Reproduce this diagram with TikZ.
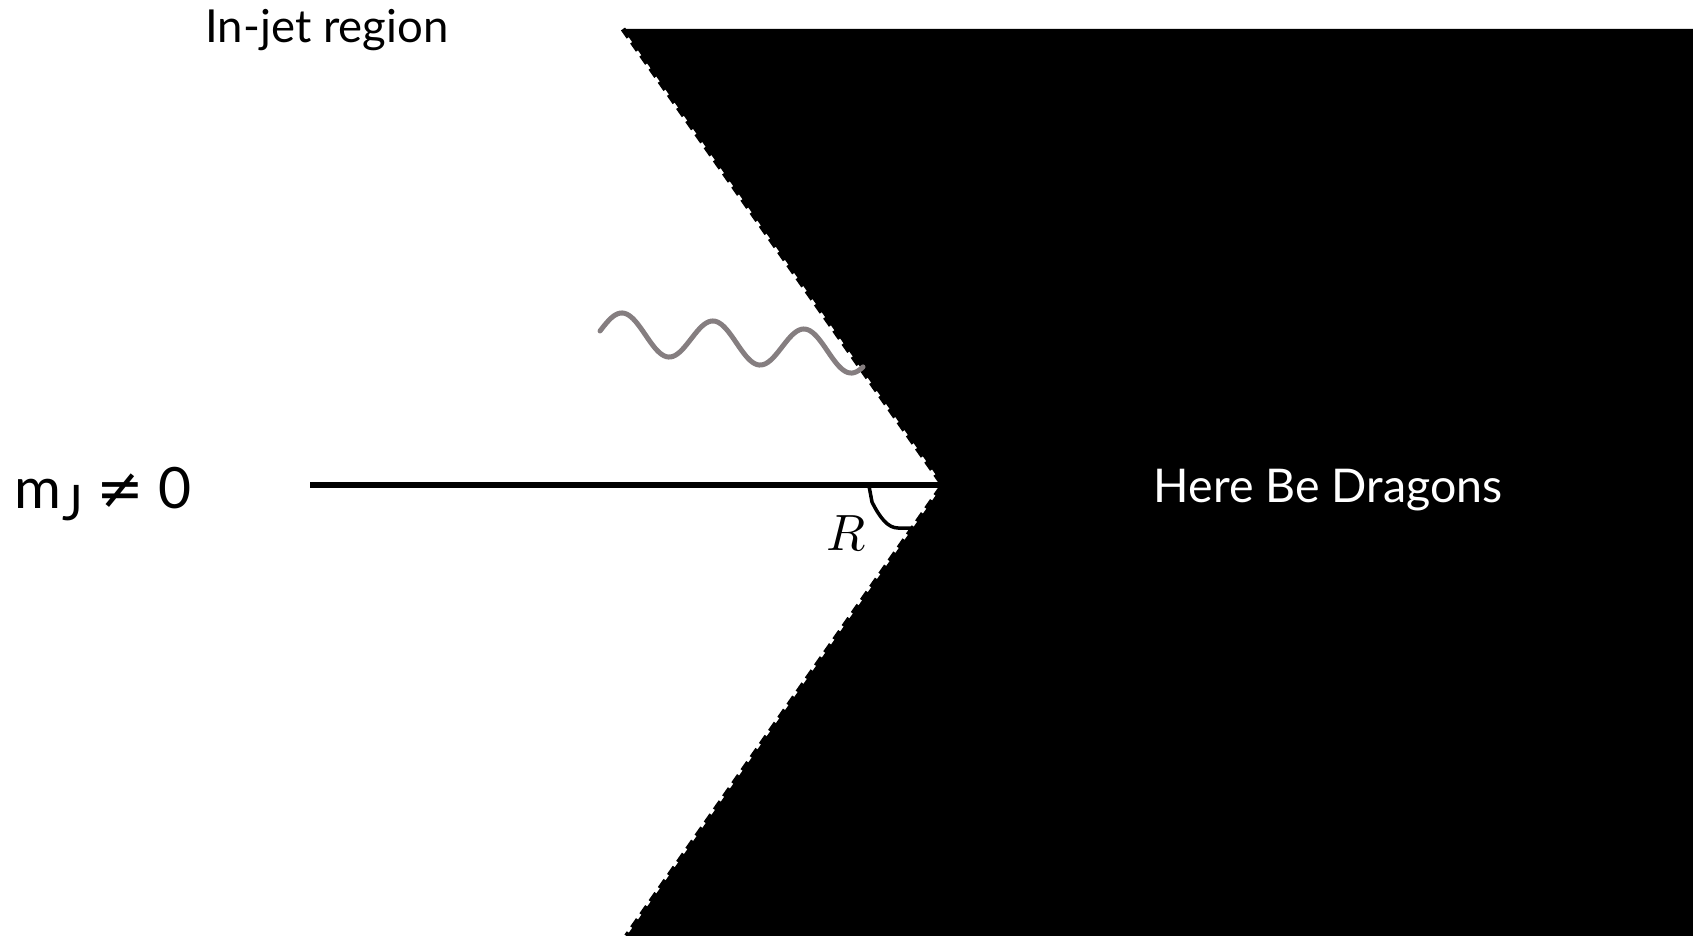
\documentclass[tikz,border=0pt]{standalone}
\usepackage{fontspec}
\setmainfont{Lato}
\newfontfamily\symfont{DejaVu Sans}
\definecolor{wavegray}{RGB}{133,126,128}
\begin{document}
\begin{tikzpicture}[x=1pt,y=-1pt,
  edgeline/.style={draw=black,line width=5pt,dash pattern=on 10pt off 6pt},
  jetline/.style={draw=black,line width=5.5pt},
  anglearc/.style={draw=black,line width=3.5pt,line join=round},
  wave/.style={draw=wavegray,line width=5pt,line cap=round},
  lbl/.style={inner sep=0pt,anchor=base}]
\useasboundingbox (0,0) rectangle (1693,936);
\coordinate (tl) at (623,29);
\coordinate (tr) at (1693,29);
\coordinate (br) at (1693,936);
\coordinate (bl) at (626.5,936);
\coordinate (apex) at (943,485);
\fill[black] (tl) -- (tr) -- (br) -- (bl) -- (apex) -- cycle;
\draw[edgeline] (tl) -- (apex) -- (bl);
\coordinate (lstart) at (310,485);
\draw[jetline] (lstart) -- (apex);
\coordinate (a1) at (869,486);
\coordinate (a2) at (913,528);
\draw[anglearc] (a1) -- (872,502) .. controls (880,518) and (888,528) .. (898,528) -- (a2);
\node[lbl] (R) at (846,550) {\scalebox{5.1}{$R$}};
\draw[wave] plot[domain=0:263,samples=120,smooth] ({600+\x},{331+0.088*\x-20*sin(3.956*\x)});
\node[lbl] (injet) at (327,43) {\fontsize{45.5}{52}\selectfont In-jet region};
\node[lbl,anchor=base west] (mj) at (14,508) {\fontsize{57}{64}\selectfont m\kern1pt\raisebox{-12pt}{\fontsize{49}{54}\selectfont J}\hspace{14pt}{\symfont ≠}\hspace{14pt}0};
\node[lbl,text=white] (dragons) at (1328,502) {\fontsize{46.5}{54}\selectfont Here Be Dragons};
\end{tikzpicture}
\end{document}
